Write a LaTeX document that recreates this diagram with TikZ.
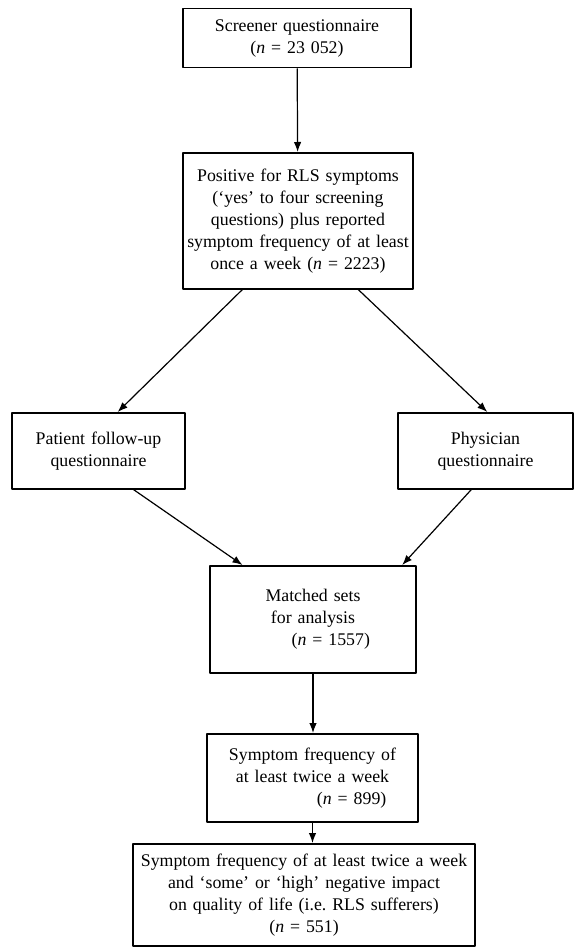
\documentclass[tikz,border=0pt]{standalone}
\usepackage{fontspec}
\setmainfont{Liberation Serif}
\usetikzlibrary{calc, positioning}
\usetikzlibrary{arrows.meta}

\begin{document}
\begin{tikzpicture}[x=1pt, y=-1pt, line join=round,
  box/.style={draw, line width=1.5pt, align=center, inner sep=0pt,
    font=\fontsize{17.8}{22}\selectfont},
  flow/.style={line width=1.2pt, -{Latex[length=10pt, width=7.5pt]}}]
\useasboundingbox (0,0) rectangle (581,947);

% Screening stage
\node[box, text width=228pt, minimum height=59pt, anchor=north] (screener) at (297,8)
  {Screener questionnaire\\(\textit{n} = 23~052)};
\node[box, text width=230pt, minimum height=136pt, anchor=north] (positive) at (298,152)
  {Positive for RLS symptoms\\(`yes' to four screening\\questions) plus reported\\symptom frequency of at least\\once a week (\textit{n} = 2223)};

% The two follow-up questionnaires
\node[box, text width=173pt, minimum height=76pt, anchor=north] (patient) at (98.5,412)
  {Patient follow-up\\questionnaire};
\node[box, text width=175pt, minimum height=76pt, anchor=north] (physician) at (485.5,412)
  {Physician\\questionnaire};

% Matched sets and the two subgroups
\node[box, text width=206pt, minimum height=107pt, anchor=north] (matched) at (313,565)
  {Matched sets\\for analysis\\\hspace{2em}(\textit{n} = 1557)};
\node[box, text width=211pt, minimum height=88pt, anchor=north] (twice) at (312.5,733)
  {Symptom frequency of\\at least twice a week\\\hspace{4.4em}(\textit{n} = 899)};
\node[box, text width=342pt, minimum height=102pt, anchor=north] (sufferers) at (304,843)
  {Symptom frequency of at least twice a week\\and `some' or `high' negative impact\\on quality of life (i.e.\ RLS sufferers)\\(\textit{n} = 551)};

% Connectors
\draw[flow] (screener) -- (positive);
\draw[flow] ($(positive.south west)!0.26!(positive.south east)$)
  -- ($(patient.north west)!0.61!(patient.north east)$);
\draw[flow] ($(positive.south west)!0.76!(positive.south east)$)
  -- ($(physician.north west)!0.51!(physician.north east)$);
\draw[flow] ($(patient.south west)!0.70!(patient.south east)$)
  -- ($(matched.north west)!0.16!(matched.north east)$);
\draw[flow] ($(physician.south west)!0.42!(physician.south east)$)
  -- ($(matched.north west)!0.93!(matched.north east)$);
\draw[flow] (matched.south) -- (matched.south |- twice.north);
\draw[flow] (twice.south) -- (twice.south |- sufferers.north);
\end{tikzpicture}
\end{document}
